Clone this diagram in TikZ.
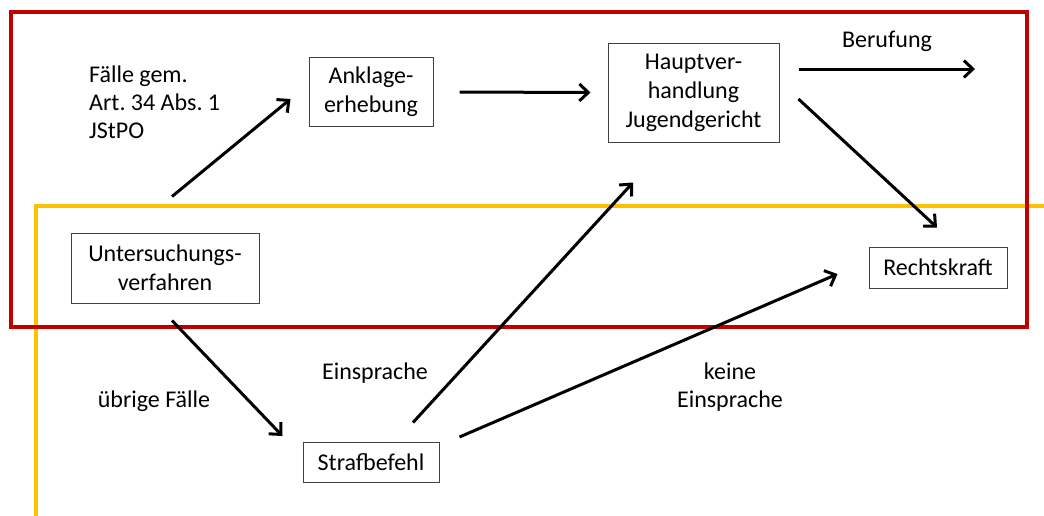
\documentclass[tikz,border=0pt]{standalone}
\usepackage{fontspec}
\setmainfont{Carlito}
\usetikzlibrary{calc,arrows.meta}
\definecolor{boxred}{HTML}{C00000}
\definecolor{boxgold}{HTML}{FFC000}
\tikzset{
  stepbox/.style={draw=black!75, line width=1pt, align=center, inner sep=0pt,
    font=\fontsize{24}{29}\selectfont},
  lbl/.style={align=center, inner sep=0pt, font=\fontsize{24}{28}\selectfont},
  arr/.style={line width=3pt, -{Straight Barb[length=9pt,width=17pt,line width=3pt]}},
}
\begin{document}
\frenchspacing
\begin{tikzpicture}[x=1pt,y=-1pt]
\useasboundingbox (0,0) rectangle (1044,515);
% frames
\draw[boxgold, line width=4pt] (1050,206) -- (36,206) -- (36,520);
\draw[boxred, line width=4pt] (11,12) rectangle (1027,327);
% nodes
\node[stepbox, minimum width=124pt, minimum height=69pt] (a) at (371,91.5) {Anklage-\\erhebung};
\node[stepbox, minimum width=171pt, minimum height=99pt] (h) at (693.5,92.5) {Hauptver-\\handlung\\Jugendgericht};
\node[stepbox, minimum width=188pt, minimum height=70pt] (u) at (165,268) {Untersuchungs-\\verfahren};
\node[stepbox, minimum width=136pt, minimum height=40pt] (s) at (371,462) {Strafbefehl};
\node[stepbox, minimum width=138pt, minimum height=41pt] (r) at (938,267.5) {Rechtskraft};
% labels
\node[lbl, align=left, anchor=west] (l1) at (89,102.5) {\frenchspacing Fälle gem.\\Art. 34 Abs. 1\\JStPO};
\node[lbl] (l2) at (887,41) {Berufung};
\node[lbl] (l3) at (375,373) {Einsprache};
\node[lbl] (l4) at (154,401) {übrige Fälle};
\node[lbl] (l5) at (730,387) {keine\\Einsprache};
\coordinate (bend) at (975,69);
% arrows
\draw[arr] ($(u.north)+(7,-36)$) -- ($(a.west)+(-18,7.5)$);
\draw[arr] ($(a.east)+(26,0.5)$) -- ($(h.west)+(-17,0)$);
\draw[arr] ($(h.east)+(19,-23.5)$) -- (bend);
\draw[arr] ($(h.east)+(19,6.5)$) -- ($(r.north)+(-1,-19)$);
\draw[arr] ($(u.south)+(7,17)$) -- ($(s.west)+(-20,-26)$);
\draw[arr] ($(s.north)+(42,-19)$) -- ($(h.south)+(-60.5,40)$);
\draw[arr] ($(s.east)+(20,-25)$) -- ($(r.west)+(-31,6.5)$);
\end{tikzpicture}
\end{document}
